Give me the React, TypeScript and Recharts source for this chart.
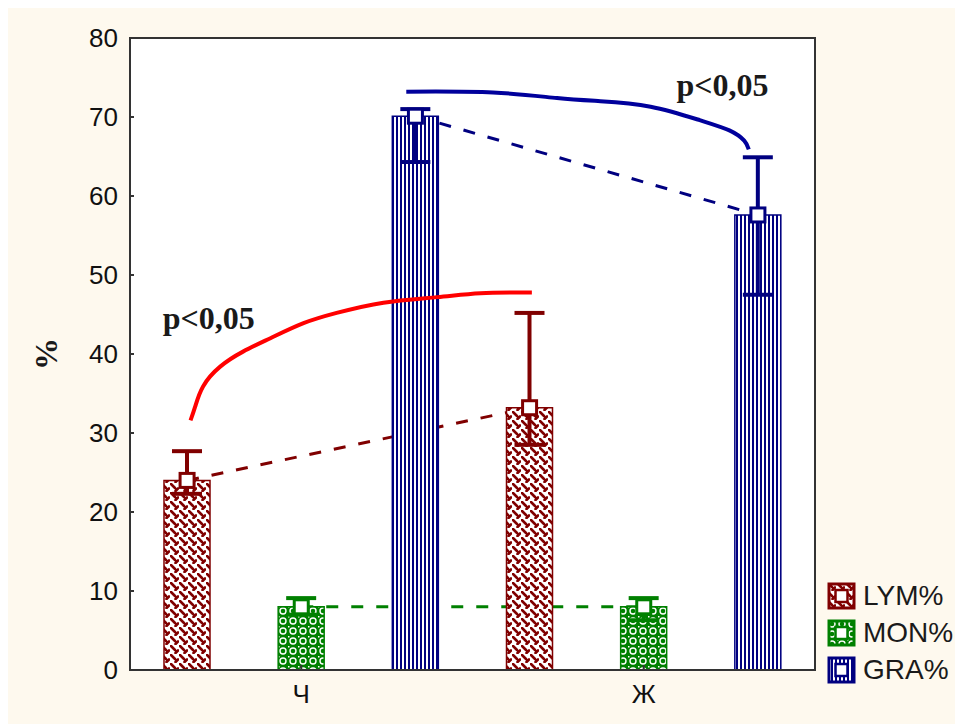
import React from 'react';
import {
  ComposedChart, Bar, Line, XAxis, YAxis, CartesianGrid,
  ErrorBar, ReferenceArea, ReferenceDot
} from 'recharts';

const groups = ['Ч', 'Ж'];
const seriesNames = ['LYM%', 'MON%', 'GRA%'];
const seriesKeys = ['lym', 'mon', 'gra'];
const seriesColors = ['#800000', '#008000', '#000080'];
const seriesPatterns = ['patLym', 'patMon', 'patGra'];

// mean with lower / upper whisker, one value per group (Ч, Ж)
const lymMean = [24.0, 33.2];
const lymLow = [22.3, 28.5];
const lymHigh = [27.7, 45.2];
const monMean = [8.0, 8.0];
const monLow = [7.0, 6.3];
const monHigh = [9.1, 9.1];
const graMean = [70.1, 57.6];
const graLow = [64.3, 47.5];
const graHigh = [71.0, 64.9];

const yTicks = [0, 10, 20, 30, 40, 50, 60, 70, 80];

// significance arcs: x in bar slots (0..6), y in %
const redArcX = [0.53, 0.57, 0.64, 0.79, 0.99, 1.23, 1.52, 1.81, 2.22, 2.69, 3.07, 3.52];
const redArcY = [31.6, 33.3, 35.9, 38.4, 40.3, 42.0, 43.9, 45.2, 46.5, 47.2, 47.7, 47.8];
const blueArcX = [2.42, 3.18, 3.74, 4.12, 4.56, 4.99, 5.25, 5.38, 5.42];
const blueArcY = [73.2, 73.1, 72.4, 72.0, 71.3, 69.6, 68.3, 67.0, 65.9];
const pText = 'p<0,05';
const redPAt = [0.69, 44.6];
const bluePAt = [5.19, 74.1];

const means = [lymMean, monMean, graMean];
const lows = [lymLow, monLow, graLow];
const highs = [lymHigh, monHigh, graHigh];

const rows = groups.flatMap((g, gi) => seriesNames.map((s, si) => {
  const m = means[si][gi];
  const row: any = { slot: `${g}|${s}` };
  row[seriesKeys[si]] = m;
  row[seriesKeys[si] + 'Err'] = [m - lows[si][gi], highs[si][gi] - m];
  return row;
}));
const tickSlots = groups.map(g => `${g}|${seriesNames[1]}`);

const redArc = redArcX.map((u, i) => ({ u, v: redArcY[i] }));
const blueArc = blueArcX.map((u, i) => ({ u, v: blueArcY[i] }));

const W = 955, H = 718;
const MARGIN = { top: 32, right: 147, bottom: 0, left: 0 };

const squareDot = (color: string) => (props: any) => {
  const { cx, cy, index, value } = props;
  if (cx == null || cy == null || value == null) return <g key={index} />;
  return <rect key={index} x={cx - 7} y={cy - 7} width={14} height={14} fill="#fff" stroke={color} strokeWidth={3} />;
};

const pLabelStyle = { fill: '#1a1a1a', fontSize: 32, fontWeight: 'bold', fontFamily: '"Liberation Serif", "Times New Roman", serif' };
const axisStroke = { stroke: '#333', strokeWidth: 2 };

// same axes for both layers; only the top layer shows them
function axes(show: boolean) {
  return [
    <XAxis key="x" dataKey="slot" scale="band" ticks={tickSlots} interval={0} height={54}
      tickFormatter={v => String(v).split('|')[0]}
      tickSize={-5} tickMargin={20}
      tick={show ? { fontSize: 26, fill: '#111' } : false}
      axisLine={show ? axisStroke : false} tickLine={show ? axisStroke : false} />,
    <XAxis key="xu" xAxisId="u" dataKey="u" type="number" domain={[0, 6]} hide allowDataOverflow />,
    <YAxis key="y" domain={[0, 80]} ticks={yTicks} interval={0} width={122}
      tickSize={-4} tickMargin={16}
      tick={show ? { fontSize: 26, fill: '#111' } : false}
      axisLine={show ? axisStroke : false} tickLine={show ? axisStroke : false}
      label={show ? ({ viewBox }: any) => {
        const x = viewBox.x + 38;
        const y = viewBox.y + viewBox.height / 2;
        return (
          <text x={x} y={y} transform={`rotate(-90 ${x} ${y})`} textAnchor="middle" dominantBaseline="central"
            fill="#1a1a1a" fontSize={32} fontWeight="bold" fontFamily='"Liberation Serif", serif'>%</text>
        );
      } : undefined} />,
    <YAxis key="yr" yAxisId="r" orientation="right" domain={[0, 80]} ticks={yTicks} interval={0} width={1}
      tickSize={-4} tickFormatter={() => ''}
      tick={show ? undefined : false}
      axisLine={show ? axisStroke : false} tickLine={show ? axisStroke : false} />,
  ];
}

function Patterns() {
  return (
    <svg width={0} height={0} style={{ position: 'absolute' }}>
      <defs>
        <pattern id="patGra" width="4" height="8" patternUnits="userSpaceOnUse">
          <rect width="4" height="8" fill="#fff" />
          <rect width="2" height="8" fill="#000080" />
        </pattern>
        <pattern id="patLym" width="9" height="9" patternUnits="userSpaceOnUse">
          <rect width="9" height="9" fill="#fff" />
          <path d="M1 1 L5 5 M5.5 8 L8 5.5" stroke="#800000" strokeWidth="2.6" strokeLinecap="round" />
        </pattern>
        <pattern id="patMon" width="10" height="10" patternUnits="userSpaceOnUse">
          <rect width="10" height="10" fill="#008000" />
          <circle cx="5" cy="5" r="3" fill="none" stroke="#fff" strokeWidth="1.4" />
          <rect x="0" y="0" width="1.5" height="1.5" fill="#fff" />
        </pattern>
      </defs>
    </svg>
  );
}

export default function App() {
  return (
    <div style={{ position: 'relative', width: W, height: H, marginTop: -2, background: '#fef9ee', fontFamily: '"Liberation Sans", Arial, sans-serif' }}>
      <Patterns />
      {/* bottom layer: plot background, grid and dashed links between means */}
      <div style={{ position: 'absolute', left: 0, top: 0 }}>
        <ComposedChart width={W} height={H} data={rows} margin={MARGIN}>
          <CartesianGrid vertical={false} fill="#fff" stroke="#aaa" strokeDasharray="2 3" />
          {axes(false)}
          {seriesKeys.map((k, si) => (
            <Line key={'dash' + k} dataKey={k} connectNulls stroke={seriesColors[si]} strokeWidth={3}
              strokeDasharray="12 13" dot={false} activeDot={false} isAnimationActive={false} />
          ))}
        </ComposedChart>
      </div>
      {/* top layer: bars, whiskers, arcs, markers, axes */}
      <div style={{ position: 'absolute', left: 0, top: 0 }}>
        <ComposedChart width={W} height={H} data={rows} barGap={-46} margin={MARGIN}>
          {axes(true)}
          {seriesKeys.map((k, si) => (
            <Bar key={'bar' + k} dataKey={k} barSize={46} fill={`url(#${seriesPatterns[si]})`}
              stroke={seriesColors[si]} strokeWidth={1.5} isAnimationActive={false}>
              <ErrorBar dataKey={k + 'Err'} width={15} stroke={seriesColors[si]} strokeWidth={4} direction="y" />
            </Bar>
          ))}
          <Line xAxisId="u" data={redArc} dataKey="v" type="natural" stroke="#ff0000" strokeWidth={4}
            dot={false} activeDot={false} isAnimationActive={false} />
          <Line xAxisId="u" data={blueArc} dataKey="v" type="natural" stroke="#00009c" strokeWidth={4}
            dot={false} activeDot={false} isAnimationActive={false} />
          {seriesKeys.map((k, si) => (
            <Line key={'dot' + k} dataKey={k} stroke="none" connectNulls
              dot={squareDot(seriesColors[si])} activeDot={false} isAnimationActive={false} />
          ))}
          <ReferenceArea xAxisId="u" x1={0} x2={6} y1={0} y2={80} fill="none" stroke="#333" strokeWidth={2} ifOverflow="visible" />
          <ReferenceDot xAxisId="u" x={redPAt[0]} y={redPAt[1]} r={0} fill="none" stroke="none"
            label={{ value: pText, position: 'center', ...pLabelStyle }} />
          <ReferenceDot xAxisId="u" x={bluePAt[0]} y={bluePAt[1]} r={0} fill="none" stroke="none"
            label={{ value: pText, position: 'center', ...pLabelStyle }} />
        </ComposedChart>
      </div>

      <div style={{ position: 'absolute', left: 819, top: 571 }}>
        {seriesNames.map((s, si) => (
          <div key={s} style={{ display: 'flex', alignItems: 'center', height: 37 }}>
            <svg width={30} height={28}>
              <rect x={2} y={2} width={25} height={24} fill={`url(#${seriesPatterns[si]})`} stroke={seriesColors[si]} strokeWidth={3} />
              <rect x={8.5} y={8} width={12} height={12} fill="#fff" stroke={seriesColors[si]} strokeWidth={2.5} />
            </svg>
            <span style={{ marginLeft: 6, fontSize: 28, color: '#1a1a1a' }}>{s}</span>
          </div>
        ))}
      </div>
    </div>
  );
}
